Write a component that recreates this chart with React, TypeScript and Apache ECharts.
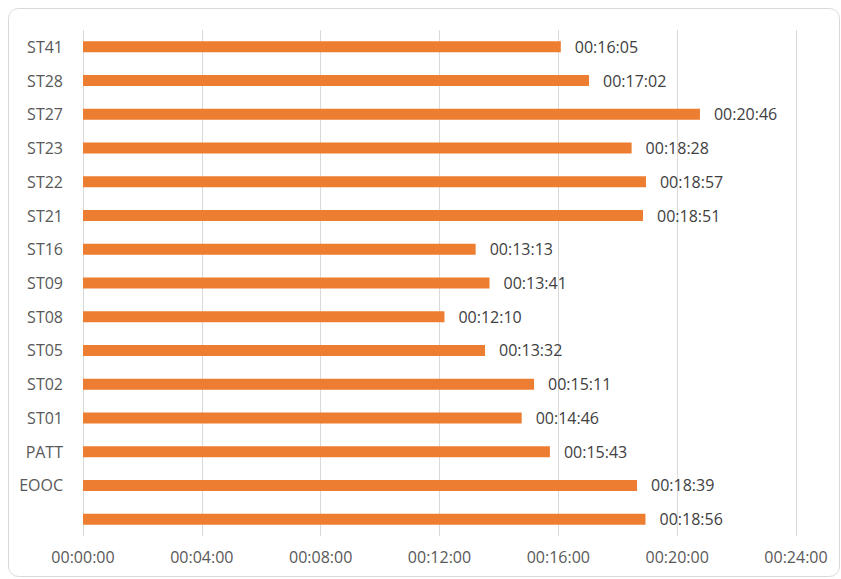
import React, { useEffect, useRef } from "react";
import * as echarts from "echarts";

const categories = ["", "EOOC", "PATT", "ST01", "ST02", "ST05", "ST08", "ST09", "ST16", "ST21", "ST22", "ST23", "ST27", "ST28", "ST41"];
// durations in seconds
const durations = [1136, 1119, 943, 886, 911, 812, 730, 821, 793, 1131, 1137, 1108, 1246, 1022, 965];
const axisMax = 1440;
const axisStep = 240;

const pad = (n: number) => (n < 10 ? "0" + n : "" + n);
const fmt = (s: number) => {
  const h = Math.floor(s / 3600);
  const m = Math.floor((s % 3600) / 60);
  const sec = Math.round(s % 60);
  return pad(h) + ":" + pad(m) + ":" + pad(sec);
};

export default function App() {
  const ref = useRef<HTMLDivElement>(null);
  useEffect(() => {
    if (!ref.current) return;
    const chart = echarts.init(ref.current, null, { renderer: "svg" });
    const font = "'Open Sans', 'Liberation Sans', sans-serif";
    chart.setOption({
      animation: false,
      backgroundColor: "#ffffff",
      textStyle: { fontFamily: font },
      graphic: [
        {
          type: "rect",
          shape: { x: 8.5, y: 8.5, width: 831, height: 568, r: 10 },
          style: { fill: "none", stroke: "#d9d9d9", lineWidth: 1 },
          silent: true,
        },
      ],
      grid: { left: 83, right: 45, top: 30, bottom: 43, containLabel: false },
      xAxis: {
        type: "value",
        min: 0,
        max: axisMax,
        interval: axisStep,
        axisLine: { show: false },
        axisTick: { show: false },
        splitLine: { show: true, lineStyle: { color: "#d9d9d9", width: 1 } },
        axisLabel: {
          formatter: (v: number) => fmt(v),
          color: "#595959",
          fontSize: 16,
          fontFamily: font,
          margin: 13,
        },
      },
      yAxis: {
        type: "category",
        data: categories,
        axisLine: { show: false },
        axisTick: { show: false },
        axisLabel: { color: "#595959", fontSize: 16, fontFamily: font, margin: 20 },
      },
      series: [
        {
          type: "bar",
          data: durations,
          barWidth: 11,
          itemStyle: { color: "#ed7d31" },
          label: {
            show: true,
            position: "right",
            distance: 14,
            formatter: (p: any) => fmt(p.value),
            color: "#404040",
            fontSize: 16,
            fontFamily: font,
          },
        },
      ],
    });
    return () => chart.dispose();
  }, []);
  return <div ref={ref} style={{ position: "fixed", left: 0, top: 0, width: 841, height: 579 }} />;
}
